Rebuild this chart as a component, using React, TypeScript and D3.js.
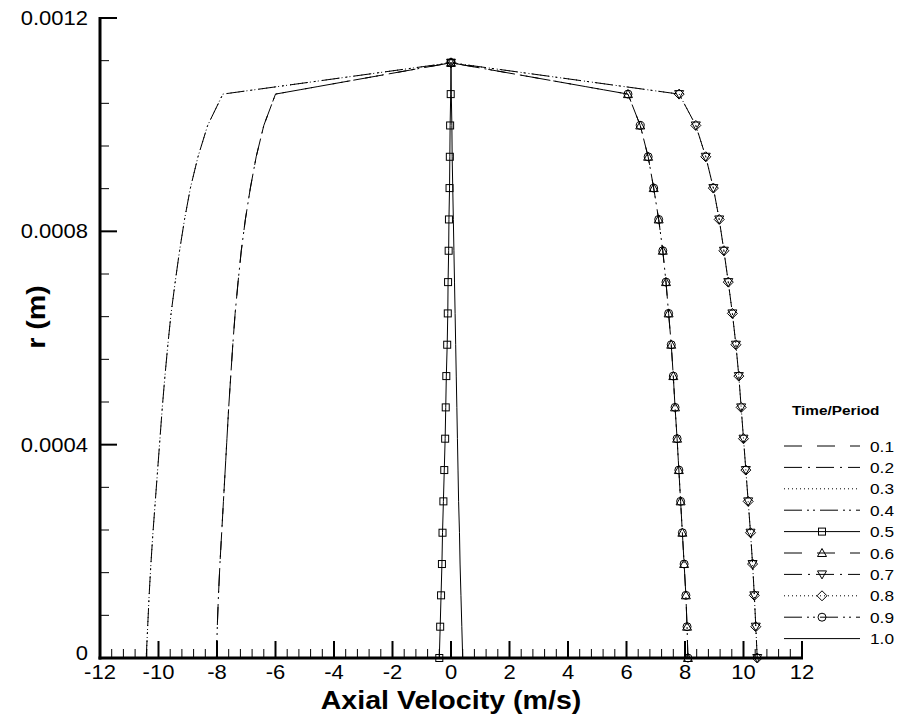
import React from "react";
import * as d3 from "d3";

// Radial positions (m), wall at the last point
const radius = [
  0, 0.0000587, 0.0001175, 0.0001762, 0.0002349, 0.0002937, 0.0003524, 0.0004112,
  0.0004699, 0.0005286, 0.0005874, 0.0006461, 0.0007048, 0.0007636, 0.0008223,
  0.0008811, 0.0009398, 0.0009985, 0.0010573, 0.001116,
];

// Axial velocity profiles (m/s) at each fraction of the period
const u01 = [-8.02, -7.99, -7.95, -7.9, -7.84, -7.78, -7.72, -7.66, -7.6, -7.53, -7.46, -7.38, -7.28, -7.17, -7.03, -6.86, -6.66, -6.4, -6.0, 0];
const u02 = [-10.42, -10.37, -10.32, -10.26, -10.19, -10.11, -10.03, -9.95, -9.87, -9.78, -9.68, -9.57, -9.43, -9.28, -9.11, -8.91, -8.65, -8.32, -7.8, 0];
const u03 = [-10.42, -10.37, -10.32, -10.26, -10.19, -10.11, -10.03, -9.95, -9.87, -9.78, -9.68, -9.57, -9.43, -9.28, -9.11, -8.91, -8.65, -8.32, -7.8, 0];
const u04 = [-8.02, -7.99, -7.95, -7.9, -7.84, -7.78, -7.72, -7.66, -7.6, -7.53, -7.46, -7.38, -7.28, -7.17, -7.03, -6.86, -6.66, -6.4, -6.0, 0];
const u05 = [-0.4, -0.37, -0.34, -0.31, -0.29, -0.26, -0.23, -0.2, -0.18, -0.16, -0.13, -0.11, -0.1, -0.08, -0.07, -0.05, -0.04, -0.03, -0.01, 0];
const u06 = [8.1, 8.07, 8.03, 7.97, 7.91, 7.85, 7.79, 7.73, 7.66, 7.6, 7.53, 7.44, 7.35, 7.24, 7.1, 6.93, 6.74, 6.47, 6.05, 0];
const u07 = [10.47, 10.42, 10.37, 10.31, 10.24, 10.16, 10.08, 10.0, 9.92, 9.84, 9.74, 9.62, 9.48, 9.33, 9.17, 8.97, 8.71, 8.37, 7.8, 0];
const u08 = [10.47, 10.42, 10.37, 10.31, 10.24, 10.16, 10.08, 10.0, 9.92, 9.84, 9.74, 9.62, 9.48, 9.33, 9.17, 8.97, 8.71, 8.37, 7.8, 0];
const u09 = [8.1, 8.07, 8.03, 7.97, 7.91, 7.85, 7.79, 7.73, 7.66, 7.6, 7.53, 7.44, 7.35, 7.24, 7.1, 6.93, 6.74, 6.47, 6.05, 0];
const u10 = [0.4, 0.37, 0.34, 0.31, 0.29, 0.26, 0.24, 0.22, 0.2, 0.18, 0.16, 0.14, 0.12, 0.1, 0.08, 0.06, 0.04, 0.03, 0.01, 0];

const timeLabels = ["0.1", "0.2", "0.3", "0.4", "0.5", "0.6", "0.7", "0.8", "0.9", "1.0"];
const xTickLabels = ["-12", "-10", "-8", "-6", "-4", "-2", "0", "2", "4", "6", "8", "10", "12"];
const yTickLabels = ["0", "0.0004", "0.0008", "0.0012"];

type Marker = "none" | "square" | "triUp" | "triDown" | "diamond" | "circle";

const profiles = [u01, u02, u03, u04, u05, u06, u07, u08, u09, u10];
const dashes = ["18 15", "18 6 2 6", "1 3", "18 5 2 4 2 5", "", "18 15", "18 6 2 6", "1 3", "18 5 2 4 2 5", ""];
const markers: Marker[] = ["none", "none", "none", "none", "square", "triUp", "triDown", "diamond", "circle", "none"];

const FONT = "'Liberation Sans', Arial, Helvetica, sans-serif";

const x = d3.scaleLinear().domain([-12, 12]).range([100, 802]);
const y = d3.scaleLinear().domain([0, 0.0012]).range([658, 18]);

function MarkerShape({ kind, cx, cy }: { kind: Marker; cx: number; cy: number }) {
  const common = { fill: "white", fillOpacity: 0, stroke: "#000", strokeWidth: 1 };
  switch (kind) {
    case "square":
      return <rect x={cx - 3.5} y={cy - 3.5} width={7} height={7} {...common} />;
    case "triUp":
      return <path d={`M${cx},${cy - 4.5}L${cx + 4.5},${cy + 3.5}L${cx - 4.5},${cy + 3.5}Z`} {...common} />;
    case "triDown":
      return <path d={`M${cx},${cy + 4.5}L${cx + 4.5},${cy - 3.5}L${cx - 4.5},${cy - 3.5}Z`} {...common} />;
    case "diamond":
      return <path d={`M${cx},${cy - 5}L${cx + 5},${cy}L${cx},${cy + 5}L${cx - 5},${cy}Z`} {...common} />;
    case "circle":
      return <circle cx={cx} cy={cy} r={4} {...common} />;
    default:
      return null;
  }
}

// Text widened horizontally about its anchor point
function SText({ x0, y0, anchor, size, bold, rotate, stretch = 1.1, children }: any) {
  const t = `translate(${x0},${y0})${rotate ? ` rotate(${rotate})` : ""} scale(${stretch},1)`;
  return (
    <text
      transform={t}
      textAnchor={anchor}
      dominantBaseline="central"
      fontFamily={FONT}
      fontSize={size}
      fontWeight={bold ? "bold" : "normal"}
      fill="#000"
    >
      {children}
    </text>
  );
}

export default function App() {
  const line = d3
    .line<number>()
    .x((d) => x(d))
    .y((_, i) => y(radius[i]));

  const xMajor = d3.range(-12, 12.001, 2);
  const xMinor = d3.range(-12, 12.001, 0.4).filter((v) => Math.abs(v / 2 - Math.round(v / 2)) > 1e-6);
  const yMajor = d3.range(0, 0.0012 + 1e-9, 0.0004);
  const yMinor = d3.range(0, 0.0012 + 1e-9, 0.00008).filter((v) => Math.abs(v / 0.0004 - Math.round(v / 0.0004)) > 1e-6);

  const legendTop = 446;
  const legendStep = 21.4;

  return (
    <svg width={901} height={721} style={{ position: "absolute", left: 0, top: 0, background: "#fff" }}>
      <rect x={0} y={0} width={901} height={721} fill="#fff" />

      {/* profiles */}
      {profiles.map((u, s) => (
        <g key={s}>
          <path d={line(u) || ""} fill="none" stroke="#000" strokeWidth={1} strokeDasharray={dashes[s] || undefined} />
          {markers[s] !== "none" &&
            u.map((v, i) => <MarkerShape key={i} kind={markers[s]} cx={x(v)} cy={y(radius[i])} />)}
        </g>
      ))}

      {/* axes */}
      <g stroke="#000">
        {xMinor.map((v) => (
          <line key={"xm" + v} x1={x(v)} x2={x(v)} y1={y(0)} y2={y(0) - 9} strokeWidth={1} />
        ))}
        {xMajor.map((v) => (
          <line key={"xM" + v} x1={x(v)} x2={x(v)} y1={y(0)} y2={y(0) - 17} strokeWidth={2} />
        ))}
        {yMinor.map((v) => (
          <line key={"ym" + v} x1={x(-12)} x2={x(-12) + 9} y1={y(v)} y2={y(v)} strokeWidth={1} />
        ))}
        {yMajor.map((v) => (
          <line key={"yM" + v} x1={x(-12)} x2={x(-12) + 17} y1={y(v)} y2={y(v)} strokeWidth={2} />
        ))}
        <line x1={x(-12) - 1.5} x2={x(12) + 1} y1={y(0)} y2={y(0)} strokeWidth={3} />
        <line x1={x(-12)} x2={x(-12)} y1={y(0.0012) - 1} y2={y(0) + 1.5} strokeWidth={3} />
      </g>

      {xTickLabels.map((lab, i) => (
        <SText key={"xl" + i} x0={x(xMajor[i])} y0={y(0) + 14} anchor="middle" size={20}>
          {lab}
        </SText>
      ))}
      {yTickLabels.map((lab, i) => (
        <SText key={"yl" + i} x0={88} y0={y(yMajor[i]) - (i === 0 ? 5 : 0)} anchor="end" size={20}>
          {lab}
        </SText>
      ))}

      <SText x0={451} y0={700} anchor="middle" size={26} bold>
        Axial Velocity (m/s)
      </SText>
      <SText x0={36} y0={317} anchor="middle" size={26} bold rotate={-90}>
        r (m)
      </SText>

      {/* legend */}
      <SText x0={792} y0={410} anchor="start" size={13} bold stretch={1.18}>
        Time/Period
      </SText>
      {timeLabels.map((lab, s) => {
        const ly = legendTop + s * legendStep;
        return (
          <g key={"lg" + s}>
            <line x1={784} x2={860} y1={ly} y2={ly} stroke="#000" strokeWidth={1} strokeDasharray={dashes[s] || undefined} />
            {markers[s] !== "none" && <MarkerShape kind={markers[s]} cx={822} cy={ly} />}
            <SText x0={870} y0={ly} anchor="start" size={15} stretch={1.15}>
              {lab}
            </SText>
          </g>
        );
      })}
    </svg>
  );
}
